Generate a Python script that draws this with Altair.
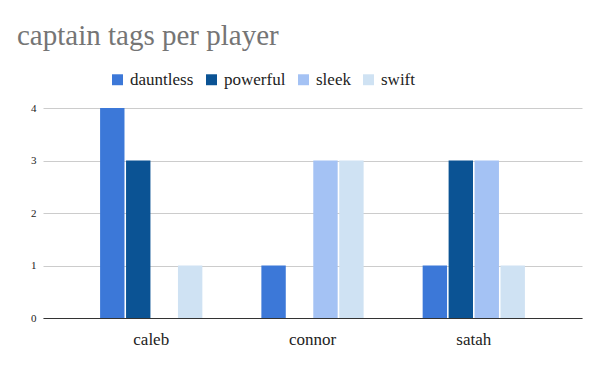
import altair as alt
import pandas as pd

players = ["caleb", "connor", "satah"]
tags = ["dauntless", "powerful", "sleek", "swift"]
dauntless = [4, 1, 1]
powerful = [3, 0, 3]
sleek = [0, 3, 3]
swift = [1, 3, 1]
colors = ["#3c78d8", "#0b5394", "#a4c2f4", "#cfe2f3"]

rows = []
for i, p in enumerate(players):
    for t, vals in zip(tags, [dauntless, powerful, sleek, swift]):
        rows.append({"player": p, "tag": t, "count": vals[i]})
df = pd.DataFrame(rows)

FONT = "Liberation Serif"

chart = alt.Chart(df).mark_bar().encode(
    x=alt.X("player:N", sort=players, title=None,
            scale=alt.Scale(paddingInner=0.366, paddingOuter=0.354),
            axis=alt.Axis(labelAngle=0, labelFontSize=17, labelColor="#222222",
                          labelFont=FONT, ticks=False, domainColor="#333333",
                          labelPadding=13)),
    xOffset=alt.XOffset("tag:N", sort=tags, scale=alt.Scale(paddingInner=0.06)),
    y=alt.Y("count:Q", title=None,
            scale=alt.Scale(domain=[0, 4]),
            axis=alt.Axis(values=[0, 1, 2, 3, 4], format="d", domain=False, ticks=False,
                          labelFontSize=11, labelColor="#222222", labelFont=FONT,
                          gridColor="#cccccc", labelPadding=7)),
    color=alt.Color("tag:N", sort=tags, scale=alt.Scale(domain=tags, range=colors),
                    legend=alt.Legend(title=None, orient="none", direction="horizontal",
                                      legendX=66, legendY=-37, symbolType="square",
                                      symbolSize=120, symbolStrokeWidth=0,
                                      labelFontSize=17, labelFont=FONT,
                                      labelColor="#222222", columnPadding=9,
                                      symbolOpacity=1)),
).properties(
    width=539,
    height=210,
    padding={"left": 35, "top": 100, "right": 10, "bottom": 45},
    autosize=alt.AutoSizeParams(type="none"),
    title=alt.TitleParams("captain tags per player", anchor="start", fontSize=29,
                          font=FONT, fontWeight="normal", color="#757575",
                          dx=-26, dy=-16, frame="group"),
).configure_view(stroke=None)

chart.save("out.html", embed_options={"renderer": "svg", "actions": False})
